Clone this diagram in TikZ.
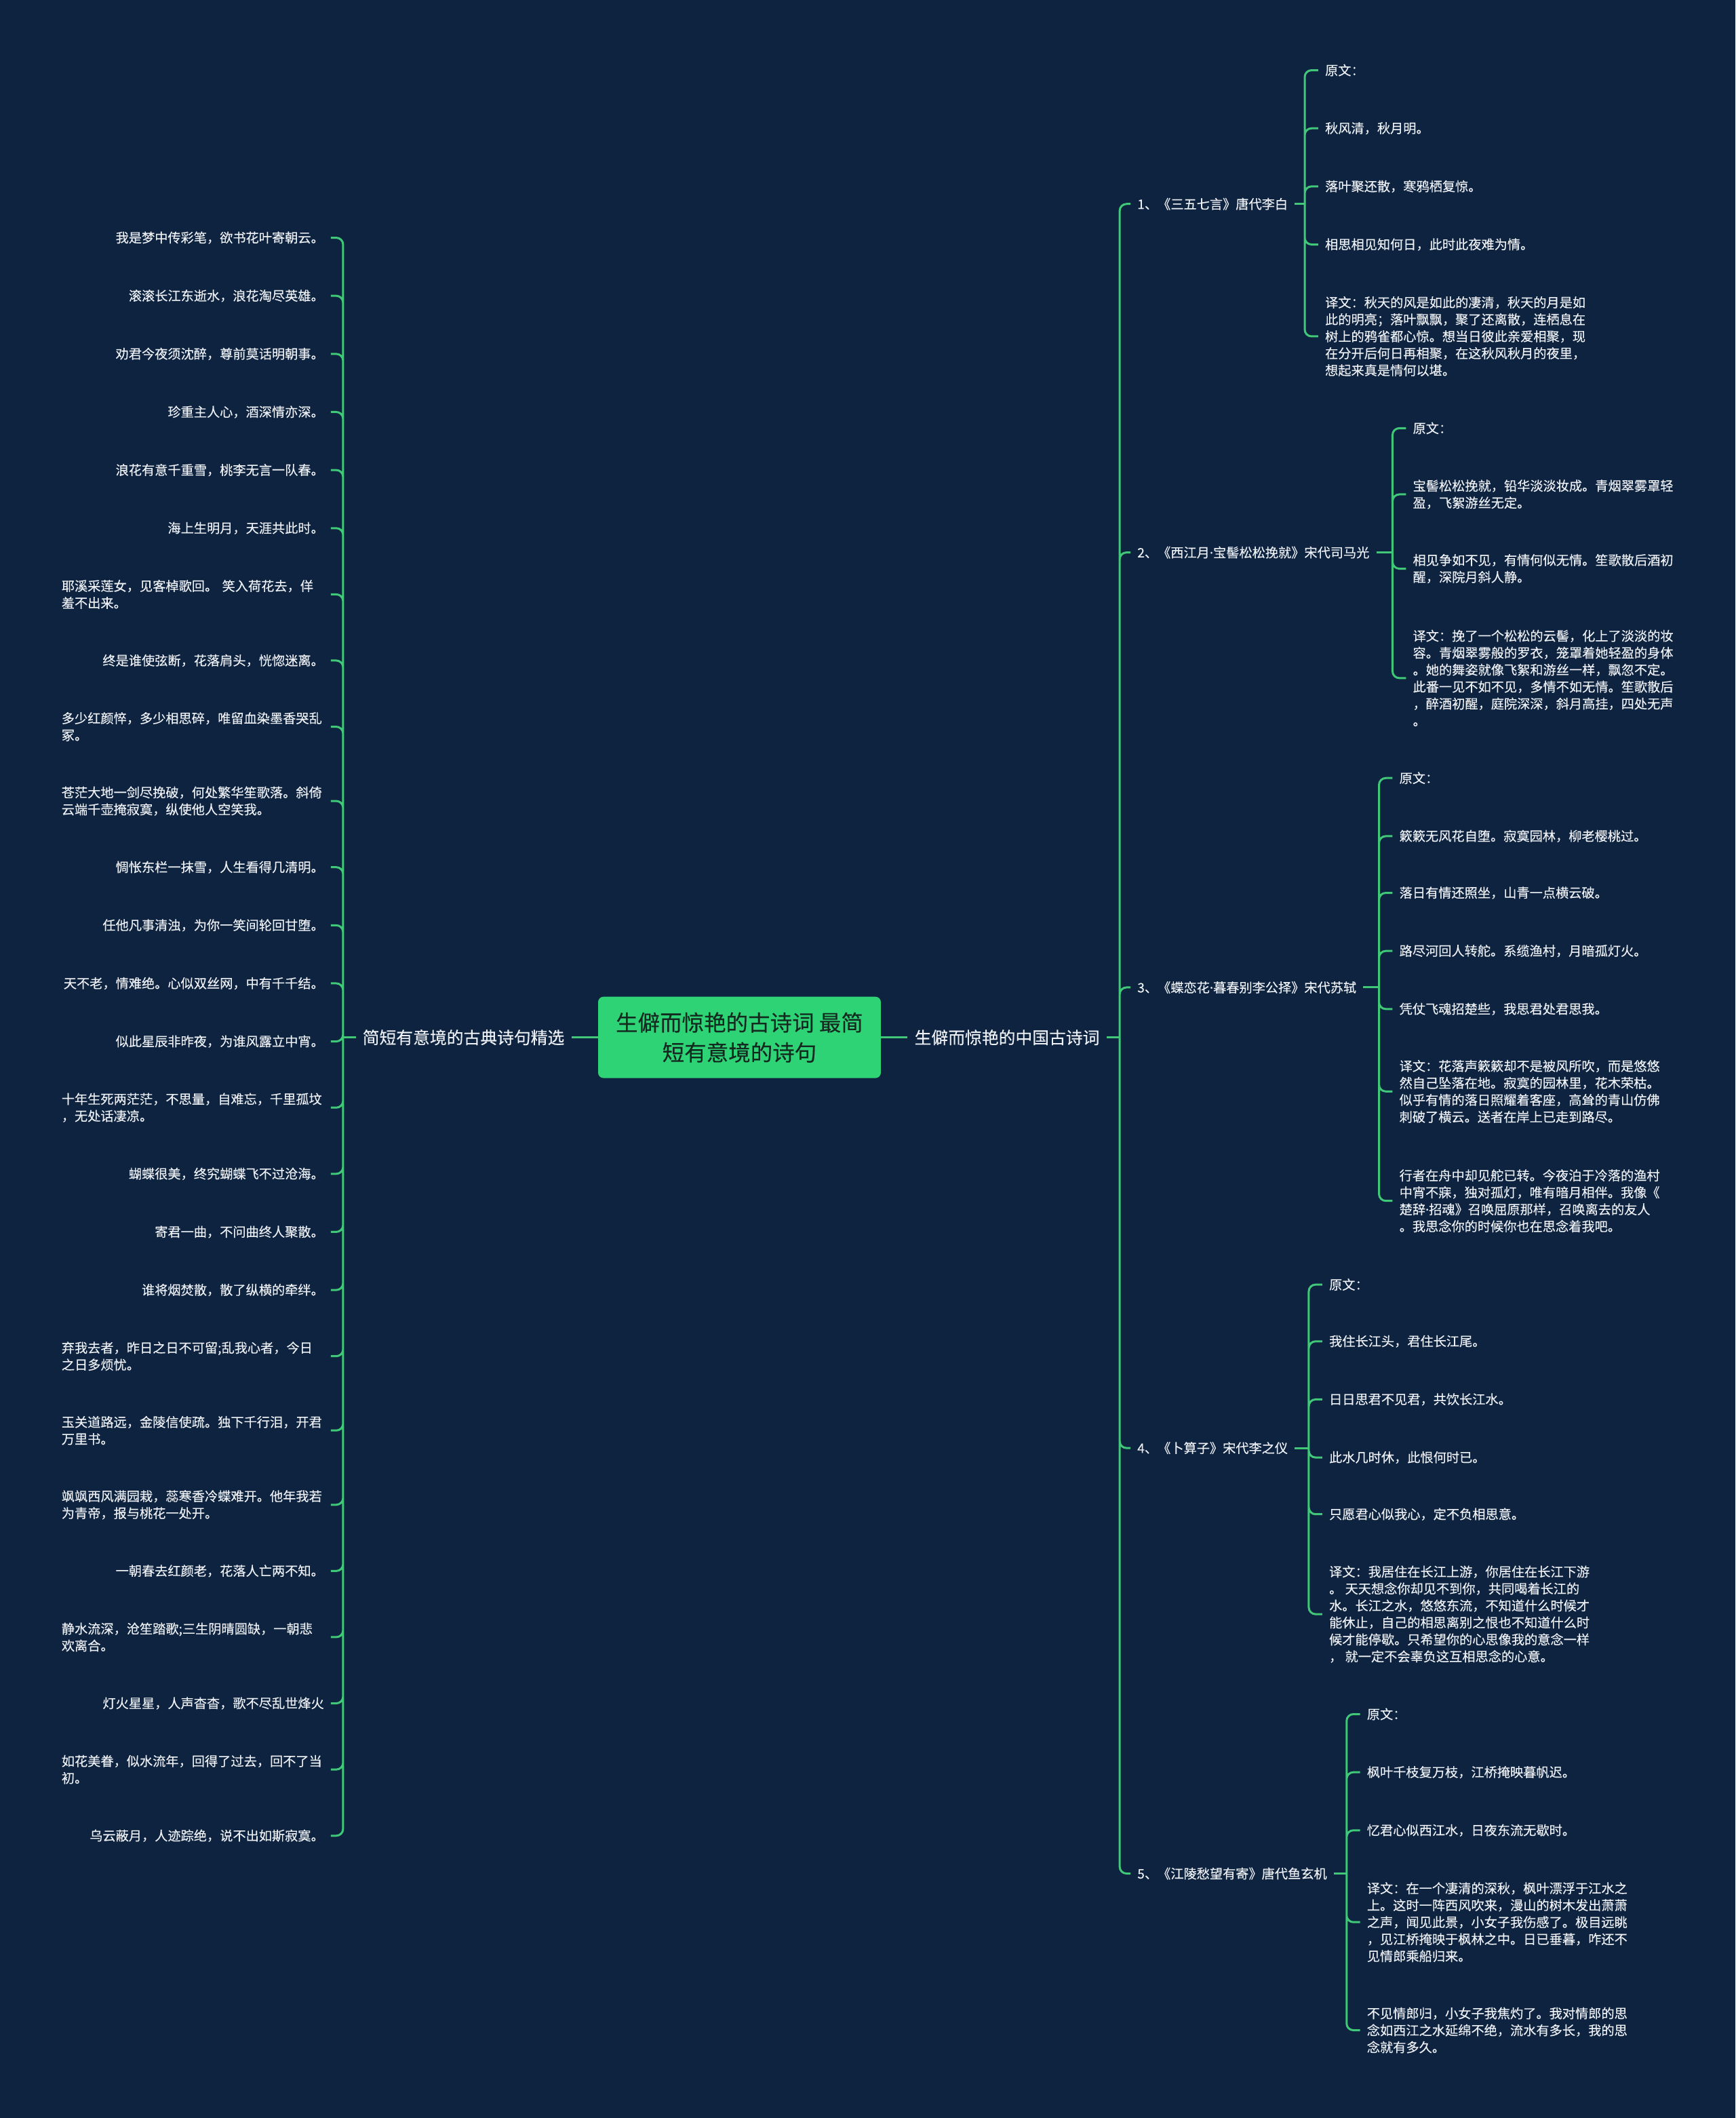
\documentclass[tikz,border=0pt]{standalone}
\usepackage{fontspec}
\setmainfont{Noto Sans CJK SC}[FakeBold=0.25]
\newfontfamily\latinfont{Noto Sans}[FakeBold=0.25]
\newcommand{\mdot}{{\latinfont ·}}
\usepackage{tikz}
\definecolor{bgnavy}{RGB}{14,35,64}
\definecolor{linegreen}{RGB}{64,200,120}
\definecolor{rootgreen}{RGB}{46,211,117}
\definecolor{roottext}{RGB}{20,42,32}
\definecolor{leaftext}{RGB}{236,239,243}
\tikzstyle{Root}=[rectangle, rounded corners=8pt, fill=rootgreen, text=roottext, minimum width=417pt, minimum height=120pt, align=center, font=\fontsize{32.5}{44}\selectfont]
\tikzstyle{Topic}=[inner xsep=10pt, inner ysep=4pt, text=leaftext, font=\fontsize{24.8}{30}\selectfont]
\tikzstyle{Leaf}=[inner xsep=10pt, inner ysep=3pt, text=leaftext, align=left, font=\fontsize{19.2}{25}\selectfont]
\tikzstyle{Wrap}=[text width=387pt]
\tikzstyle{Link}=[draw=linegreen, line width=3pt, rounded corners=10pt]

\begin{document}
\begin{tikzpicture}[x=1.992pt, y=-1.992pt]
    \fill[bgnavy] (0,0) rectangle (1285,1568);

    \path
    (547.5,768) node[Root] (root) {生僻而惊艳的古诗词 最简\\短有意境的诗句}
    (423,768) node[Topic, anchor=east] (lsel) {简短有意境的古典诗句精选}
    (672,768) node[Topic, anchor=west] (rpoem) {生僻而惊艳的中国古诗词};

    % left side: short verses
    \path
    (245,176) node[Leaf, anchor=east] (s1) {我是梦中传彩笔，欲书花叶寄朝云。}
    (245,219) node[Leaf, anchor=east] (s2) {滚滚长江东逝水，浪花淘尽英雄。}
    (245,262) node[Leaf, anchor=east] (s3) {劝君今夜须沈醉，尊前莫话明朝事。}
    (245,305) node[Leaf, anchor=east] (s4) {珍重主人心，酒深情亦深。}
    (245,348) node[Leaf, anchor=east] (s5) {浪花有意千重雪，桃李无言一队春。}
    (245,391) node[Leaf, anchor=east] (s6) {海上生明月，天涯共此时。}
    (245,440) node[Leaf, Wrap, anchor=east] (s7) {耶溪采莲女，见客棹歌回。 笑入荷花去，佯\\羞不出来。}
    (245,489) node[Leaf, anchor=east] (s8) {终是谁使弦断，花落肩头，恍惚迷离。}
    (245,538) node[Leaf, Wrap, anchor=east] (s9) {多少红颜悴，多少相思碎，唯留血染墨香哭乱\\冢。}
    (245,593) node[Leaf, Wrap, anchor=east] (s10) {苍茫大地一剑尽挽破，何处繁华笙歌落。斜倚\\云端千壶掩寂寞，纵使他人空笑我。}
    (245,642) node[Leaf, anchor=east] (s11) {惆怅东栏一抹雪，人生看得几清明。}
    (245,685) node[Leaf, anchor=east] (s12) {任他凡事清浊，为你一笑间轮回甘堕。}
    (245,728) node[Leaf, anchor=east] (s13) {天不老，情难绝。心似双丝网，中有千千结。}
    (245,771) node[Leaf, anchor=east] (s14) {似此星辰非昨夜，为谁风露立中宵。}
    (245,820) node[Leaf, Wrap, anchor=east] (s15) {十年生死两茫茫，不思量，自难忘，千里孤坟\\，无处话凄凉。}
    (245,869) node[Leaf, anchor=east] (s16) {蝴蝶很美，终究蝴蝶飞不过沧海。}
    (245,912) node[Leaf, anchor=east] (s17) {寄君一曲，不问曲终人聚散。}
    (245,955) node[Leaf, anchor=east] (s18) {谁将烟焚散，散了纵横的牵绊。}
    (245,1004) node[Leaf, Wrap, anchor=east] (s19) {弃我去者，昨日之日不可留;乱我心者，今日\\之日多烦忧。}
    (245,1059) node[Leaf, Wrap, anchor=east] (s20) {玉关道路远，金陵信使疏。独下千行泪，开君\\万里书。}
    (245,1114) node[Leaf, Wrap, anchor=east] (s21) {飒飒西风满园栽，蕊寒香冷蝶难开。他年我若\\为青帝，报与桃花一处开。}
    (245,1163) node[Leaf, anchor=east] (s22) {一朝春去红颜老，花落人亡两不知。}
    (245,1212) node[Leaf, Wrap, anchor=east] (s23) {静水流深，沧笙踏歌;三生阴晴圆缺，一朝悲\\欢离合。}
    (245,1261) node[Leaf, anchor=east] (s24) {灯火星星，人声杳杳，歌不尽乱世烽火}
    (245,1310) node[Leaf, Wrap, anchor=east] (s25) {如花美眷，似水流年，回得了过去，回不了当\\初。}
    (245,1359) node[Leaf, anchor=east] (s26) {乌云蔽月，人迹踪绝，说不出如斯寂寞。};

    % right side: five poems
    \path
    (837,151) node[Leaf, anchor=west] (p1) {1、《三五七言》唐代李白}
    (837,409) node[Leaf, anchor=west] (p2) {2、《西江月\mdot 宝髻松松挽就》宋代司马光}
    (837,731) node[Leaf, anchor=west] (p3) {3、《蝶恋花\mdot 暮春别李公择》宋代苏轼}
    (837,1072) node[Leaf, anchor=west] (p4) {4、《卜算子》宋代李之仪}
    (837,1387) node[Leaf, anchor=west] (p5) {5、《江陵愁望有寄》唐代鱼玄机};

    \path
    (976,52) node[Leaf, anchor=west] (p1a) {原文：}
    (976,95) node[Leaf, anchor=west] (p1b) {秋风清，秋月明。}
    (976,138) node[Leaf, anchor=west] (p1c) {落叶聚还散，寒鸦栖复惊。}
    (976,181) node[Leaf, anchor=west] (p1d) {相思相见知何日，此时此夜难为情。}
    (976,249) node[Leaf, anchor=west] (p1e) {译文：秋天的风是如此的凄清，秋天的月是如\\此的明亮；落叶飘飘，聚了还离散，连栖息在\\树上的鸦雀都心惊。想当日彼此亲爱相聚，现\\在分开后何日再相聚，在这秋风秋月的夜里，\\想起来真是情何以堪。};

    \path
    (1041,317) node[Leaf, anchor=west] (p2a) {原文：}
    (1041,366) node[Leaf, anchor=west] (p2b) {宝髻松松挽就，铅华淡淡妆成。青烟翠雾罩轻\\盈，飞絮游丝无定。}
    (1041,421) node[Leaf, anchor=west] (p2c) {相见争如不见，有情何似无情。笙歌散后酒初\\醒，深院月斜人静。}
    (1041,502) node[Leaf, anchor=west] (p2d) {译文：挽了一个松松的云髻，化上了淡淡的妆\\容。青烟翠雾般的罗衣，笼罩着她轻盈的身体\\。她的舞姿就像飞絮和游丝一样，飘忽不定。\\此番一见不如不见，多情不如无情。笙歌散后\\，醉酒初醒，庭院深深，斜月高挂，四处无声\\。};

    \path
    (1031,576) node[Leaf, anchor=west] (p3a) {原文：}
    (1031,619) node[Leaf, anchor=west] (p3b) {簌簌无风花自堕。寂寞园林，柳老樱桃过。}
    (1031,661) node[Leaf, anchor=west] (p3c) {落日有情还照坐，山青一点横云破。}
    (1031,704) node[Leaf, anchor=west] (p3d) {路尽河回人转舵。系缆渔村，月暗孤灯火。}
    (1031,747) node[Leaf, anchor=west] (p3e) {凭仗飞魂招楚些，我思君处君思我。}
    (1031,808) node[Leaf, anchor=west] (p3f) {译文：花落声簌簌却不是被风所吹，而是悠悠\\然自己坠落在地。寂寞的园林里，花木荣枯。\\似乎有情的落日照耀着客座，高耸的青山仿佛\\刺破了横云。送者在岸上已走到路尽。}
    (1031,889) node[Leaf, anchor=west] (p3g) {行者在舟中却见舵已转。今夜泊于冷落的渔村\\中宵不寐，独对孤灯，唯有暗月相伴。我像《\\楚辞\mdot 招魂》召唤屈原那样，召唤离去的友人\\。我思念你的时候你也在思念着我吧。};

    \path
    (979,951) node[Leaf, anchor=west] (p4a) {原文：}
    (979,993) node[Leaf, anchor=west] (p4b) {我住长江头，君住长江尾。}
    (979,1036) node[Leaf, anchor=west] (p4c) {日日思君不见君，共饮长江水。}
    (979,1079) node[Leaf, anchor=west] (p4d) {此水几时休，此恨何时已。}
    (979,1121) node[Leaf, anchor=west] (p4e) {只愿君心似我心，定不负相思意。}
    (979,1195) node[Leaf, anchor=west] (p4f) {译文：我居住在长江上游，你居住在长江下游\\。 天天想念你却见不到你，共同喝着长江的\\水。长江之水，悠悠东流，不知道什么时候才\\能休止，自己的相思离别之恨也不知道什么时\\候才能停歇。只希望你的心思像我的意念一样\\， 就一定不会辜负这互相思念的心意。};

    \path
    (1007,1269) node[Leaf, anchor=west] (p5a) {原文：}
    (1007,1312) node[Leaf, anchor=west] (p5b) {枫叶千枝复万枝，江桥掩映暮帆迟。}
    (1007,1355) node[Leaf, anchor=west] (p5c) {忆君心似西江水，日夜东流无歇时。}
    (1007,1423) node[Leaf, anchor=west] (p5d) {译文：在一个凄清的深秋，枫叶漂浮于江水之\\上。这时一阵西风吹来，漫山的树木发出萧萧\\之声，闻见此景，小女子我伤感了。极目远眺\\，见江桥掩映于枫林之中。日已垂暮，咋还不\\见情郎乘船归来。}
    (1007,1503) node[Leaf, anchor=west] (p5e) {不见情郎归，小女子我焦灼了。我对情郎的思\\念如西江之水延绵不绝，流水有多长，我的思\\念就有多久。};

    % junctions on the trunks
    \coordinate (jl) at (254,768);
    \coordinate (jr) at (829,768);
    \coordinate (j1) at (966,151);
    \coordinate (j2) at (1031,409);
    \coordinate (j3) at (1021,731);
    \coordinate (j4) at (969,1072);
    \coordinate (j5) at (997,1387);

    \draw[Link] (root.west) -- (lsel.east);
    \draw[Link] (root.east) -- (rpoem.west);
    \draw[Link] (lsel.west) -- (jl);
    \draw[Link] (rpoem.east) -- (jr);

    \draw[Link] (jl) |- (s1.east) (jl) |- (s2.east) (jl) |- (s3.east) (jl) |- (s4.east)
        (jl) |- (s5.east) (jl) |- (s6.east) (jl) |- (s7.east) (jl) |- (s8.east)
        (jl) |- (s9.east) (jl) |- (s10.east) (jl) |- (s11.east) (jl) |- (s12.east)
        (jl) |- (s13.east) (jl) |- (s14.east) (jl) |- (s15.east) (jl) |- (s16.east)
        (jl) |- (s17.east) (jl) |- (s18.east) (jl) |- (s19.east) (jl) |- (s20.east)
        (jl) |- (s21.east) (jl) |- (s22.east) (jl) |- (s23.east) (jl) |- (s24.east)
        (jl) |- (s25.east) (jl) |- (s26.east);

    \draw[Link] (jr) |- (p1.west) (jr) |- (p2.west) (jr) |- (p3.west) (jr) |- (p4.west) (jr) |- (p5.west);

    \draw[Link] (p1.east) -- (j1);
    \draw[Link] (j1) |- (p1a.west) (j1) |- (p1b.west) (j1) |- (p1c.west) (j1) |- (p1d.west) (j1) |- (p1e.west);
    \draw[Link] (p2.east) -- (j2);
    \draw[Link] (j2) |- (p2a.west) (j2) |- (p2b.west) (j2) |- (p2c.west) (j2) |- (p2d.west);
    \draw[Link] (p3.east) -- (j3);
    \draw[Link] (j3) |- (p3a.west) (j3) |- (p3b.west) (j3) |- (p3c.west) (j3) |- (p3d.west)
        (j3) |- (p3e.west) (j3) |- (p3f.west) (j3) |- (p3g.west);
    \draw[Link] (p4.east) -- (j4);
    \draw[Link] (j4) |- (p4a.west) (j4) |- (p4b.west) (j4) |- (p4c.west) (j4) |- (p4d.west)
        (j4) |- (p4e.west) (j4) |- (p4f.west);
    \draw[Link] (p5.east) -- (j5);
    \draw[Link] (j5) |- (p5a.west) (j5) |- (p5b.west) (j5) |- (p5c.west) (j5) |- (p5d.west) (j5) |- (p5e.west);
\end{tikzpicture}
\end{document}
